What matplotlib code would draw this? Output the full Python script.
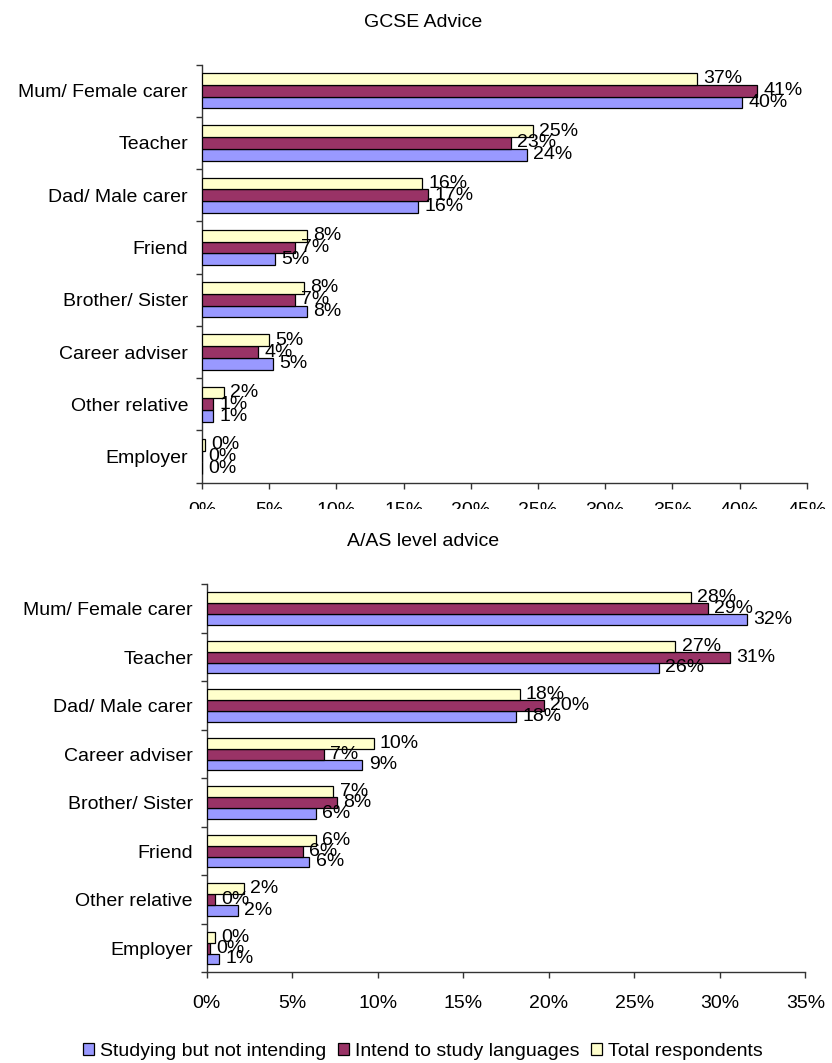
import numpy as np
import matplotlib
matplotlib.use("Agg")
import matplotlib.pyplot as plt
from matplotlib.patches import Rectangle

plt.rcParams['font.family'] = ['Liberation Sans', 'DejaVu Sans']
plt.rcParams['font.size'] = 14

# GCSE advice (percent of respondents)
gcse_categories = ["Mum/ Female carer", "Teacher", "Dad/ Male carer", "Friend",
                   "Brother/ Sister", "Career adviser", "Other relative", "Employer"]
gcse_studying = [40.2, 24.2, 16.1, 5.4, 7.8, 5.3, 0.85, 0.0]
gcse_intend = [41.3, 23.0, 16.8, 6.9, 6.9, 4.2, 0.85, 0.0]
gcse_total = [36.8, 24.6, 16.4, 7.8, 7.6, 5.0, 1.6, 0.2]

# A/AS level advice (percent of respondents)
alevel_categories = ["Mum/ Female carer", "Teacher", "Dad/ Male carer", "Career adviser",
                     "Brother/ Sister", "Friend", "Other relative", "Employer"]
alevel_studying = [31.6, 26.45, 18.1, 9.1, 6.4, 6.0, 1.8, 0.74]
alevel_intend = [29.3, 30.6, 19.7, 6.85, 7.6, 5.6, 0.48, 0.2]
alevel_total = [28.3, 27.4, 18.3, 9.75, 7.4, 6.4, 2.15, 0.48]

series_names = ["Studying but not intending", "Intend to study languages", "Total respondents"]
series_colors = ["#9999FF", "#993366", "#FFFFCC"]

W, H = 832, 1063
fig = plt.figure(figsize=(W / 100, H / 100), dpi=100)


def px_axes(left, top, right, bottom):
    return fig.add_axes([left / W, 1 - bottom / H, (right - left) / W, (bottom - top) / H])


def draw_panel(ax, cats, studying, intend, total, xmax, xpad):
    n = len(cats)
    y = np.arange(n)
    h = 0.225
    offsets = [h, 0.0, -h]
    handles = []
    for vals, off, col, name in zip([studying, intend, total], offsets, series_colors, series_names):
        bars = ax.barh(y + off, vals, height=h, color=col, edgecolor="black",
                       linewidth=0.9, label=name, zorder=3)
        handles.append(bars)
        for yy, v in zip(y + off, vals):
            ax.annotate(f"{round(v)}%", xy=(v, yy), xytext=(4.5, 0),
                        textcoords="offset points", ha="left", va="center",
                        fontsize=14, zorder=4, annotation_clip=False)
    ax.set_ylim(n - 0.5, -0.5)
    ax.set_xlim(0, xmax)
    ax.set_yticks(y)
    ax.set_yticklabels(cats)
    ax.set_yticks(np.arange(n + 1) - 0.5, minor=True)
    ax.tick_params(axis="y", which="major", length=0, pad=10, labelsize=14)
    ax.tick_params(axis="y", which="minor", length=4.5, width=1, direction="out", color="#333333")
    ticks = np.arange(0, xmax + 0.01, 5)
    ax.set_xticks(ticks)
    ax.set_xticklabels([f"{int(t)}%" for t in ticks])
    ax.tick_params(axis="x", length=4.5, width=1, direction="out", pad=xpad,
                   labelsize=14, color="#333333")
    for s in ("top", "right"):
        ax.spines[s].set_visible(False)
    for s in ("left", "bottom"):
        ax.spines[s].set_color("#333333")
        ax.spines[s].set_linewidth(1)
    return handles


ax1 = px_axes(202, 64.5, 806.7, 482.7)
draw_panel(ax1, gcse_categories, gcse_studying, gcse_intend, gcse_total, 45, 9.2)

ax2 = px_axes(206.8, 584.3, 805.3, 972.3)
handles = draw_panel(ax2, alevel_categories, alevel_studying, alevel_intend, alevel_total, 35, 11.6)

# lower panel's chart area sits over the upper panel's tick labels
fig.add_artist(Rectangle((0, 1 - 528 / H), 1, (528 - 509.3) / H,
                         transform=fig.transFigure, facecolor="white",
                         edgecolor="none", zorder=5))

fig.text(423 / W, 1 - 26.7 / H, "GCSE Advice", ha="center", va="baseline", fontsize=14, zorder=6)
fig.text(423 / W, 1 - 546 / H, "A/AS level advice", ha="center", va="baseline", fontsize=14, zorder=6)

fig.legend(handles=handles, labels=series_names, loc="center", ncol=3,
           bbox_to_anchor=(423 / W, 1 - 1051.5 / H), frameon=False, fontsize=14,
           handlelength=0.57, handleheight=0.57, handletextpad=0.31,
           columnspacing=0.6, borderpad=0.0, borderaxespad=0.0)

fig.savefig("out.png", dpi=100)
